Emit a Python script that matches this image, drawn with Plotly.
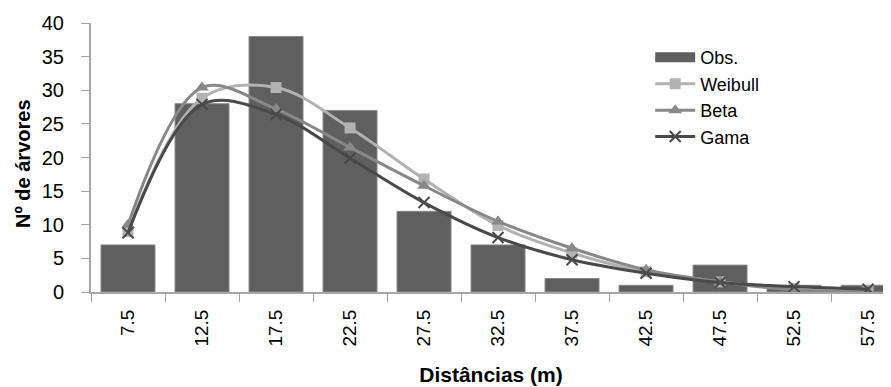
import plotly.graph_objects as go

categories = ["7.5", "12.5", "17.5", "22.5", "27.5", "32.5", "37.5", "42.5", "47.5", "52.5", "57.5"]
obs = [7, 28, 38, 27, 12, 7, 2, 1, 4, 1, 1]
weibull = [9.0, 28.8, 30.4, 24.4, 16.8, 9.9, 5.8, 3.0, 1.5, 0.5, 0.2]
beta = [10.0, 30.4, 27.2, 21.5, 15.8, 10.5, 6.5, 3.3, 1.5, 0.3, 0.1]
gama = [8.8, 27.9, 26.4, 19.9, 13.3, 8.1, 4.8, 2.8, 1.4, 0.8, 0.4]
y_title = "Nº de árvores"
x_title = "Distâncias (m)"

FONT = "Liberation Sans, Arial, sans-serif"
BAR = "#5f5f5f"
W_C = "#b2b2b2"
B_C = "#888888"
G_C = "#4a4a4a"

fig = go.Figure()
fig.add_trace(go.Bar(x=categories, y=obs, name="Obs.", marker=dict(color=BAR, line=dict(color="#8a8a8a", width=1)),
                     showlegend=False))
# legend-only swatch for the bars (wide bar-like symbol)
fig.add_trace(go.Scatter(x=[None], y=[None], mode="lines", name="Obs.", line=dict(color=BAR, width=10)))
fig.add_trace(go.Scatter(x=categories, y=weibull, name="Weibull", mode="lines+markers",
                         line=dict(color=W_C, width=3, shape="spline", smoothing=1),
                         marker=dict(symbol="square", size=11, color=W_C)))
fig.add_trace(go.Scatter(x=categories, y=beta, name="Beta", mode="lines+markers",
                         line=dict(color=B_C, width=3, shape="spline", smoothing=1),
                         marker=dict(symbol="triangle-up", size=12, color=B_C)))
fig.add_trace(go.Scatter(x=categories, y=gama, name="Gama", mode="lines+markers",
                         line=dict(color=G_C, width=3, shape="spline", smoothing=1),
                         marker=dict(symbol="x-thin", size=11, color=G_C, line=dict(color=G_C, width=2))))

fig.update_layout(
    width=883, height=379,
    margin=dict(l=83, r=0, t=15, b=95),
    plot_bgcolor="white", paper_bgcolor="white",
    font=dict(family=FONT, size=17, color="black"),
    bargap=0.27,
    legend=dict(x=0.699, y=0.94, xanchor="left", yanchor="top", bgcolor="rgba(0,0,0,0)",
                font=dict(family=FONT, size=18, color="black"), tracegroupgap=0, itemwidth=40),
    showlegend=True,
    annotations=[dict(text="<b>" + y_title + "</b>", xref="paper", yref="paper", x=-0.085, y=0.476,
                      xanchor="center", yanchor="middle", textangle=-90, showarrow=False,
                      font=dict(family=FONT, size=20, color="black"))],
)
fig.update_xaxes(
    type="category", range=[-0.5, 10.31], automargin=False,
    showline=True, linecolor="#a6a6a6", linewidth=2,
    ticks="outside", tickson="boundaries", ticklen=8, tickcolor="#a6a6a6",
    tickangle=-90, tickfont=dict(family=FONT, size=19, color="black"), ticklabelstandoff=8,
    title=dict(text="<b>" + x_title + "</b>", font=dict(family=FONT, size=21, color="black"), standoff=22),
    showgrid=False,
)
fig.update_yaxes(
    range=[0, 40], dtick=5, automargin=False,
    showline=True, linecolor="#a6a6a6", linewidth=2,
    ticks="outside", ticklen=8, tickcolor="#a6a6a6",
    tickfont=dict(family=FONT, size=20, color="black"), ticklabelstandoff=13,
    showgrid=False, zeroline=False,
)

fig.write_html("out.html")
